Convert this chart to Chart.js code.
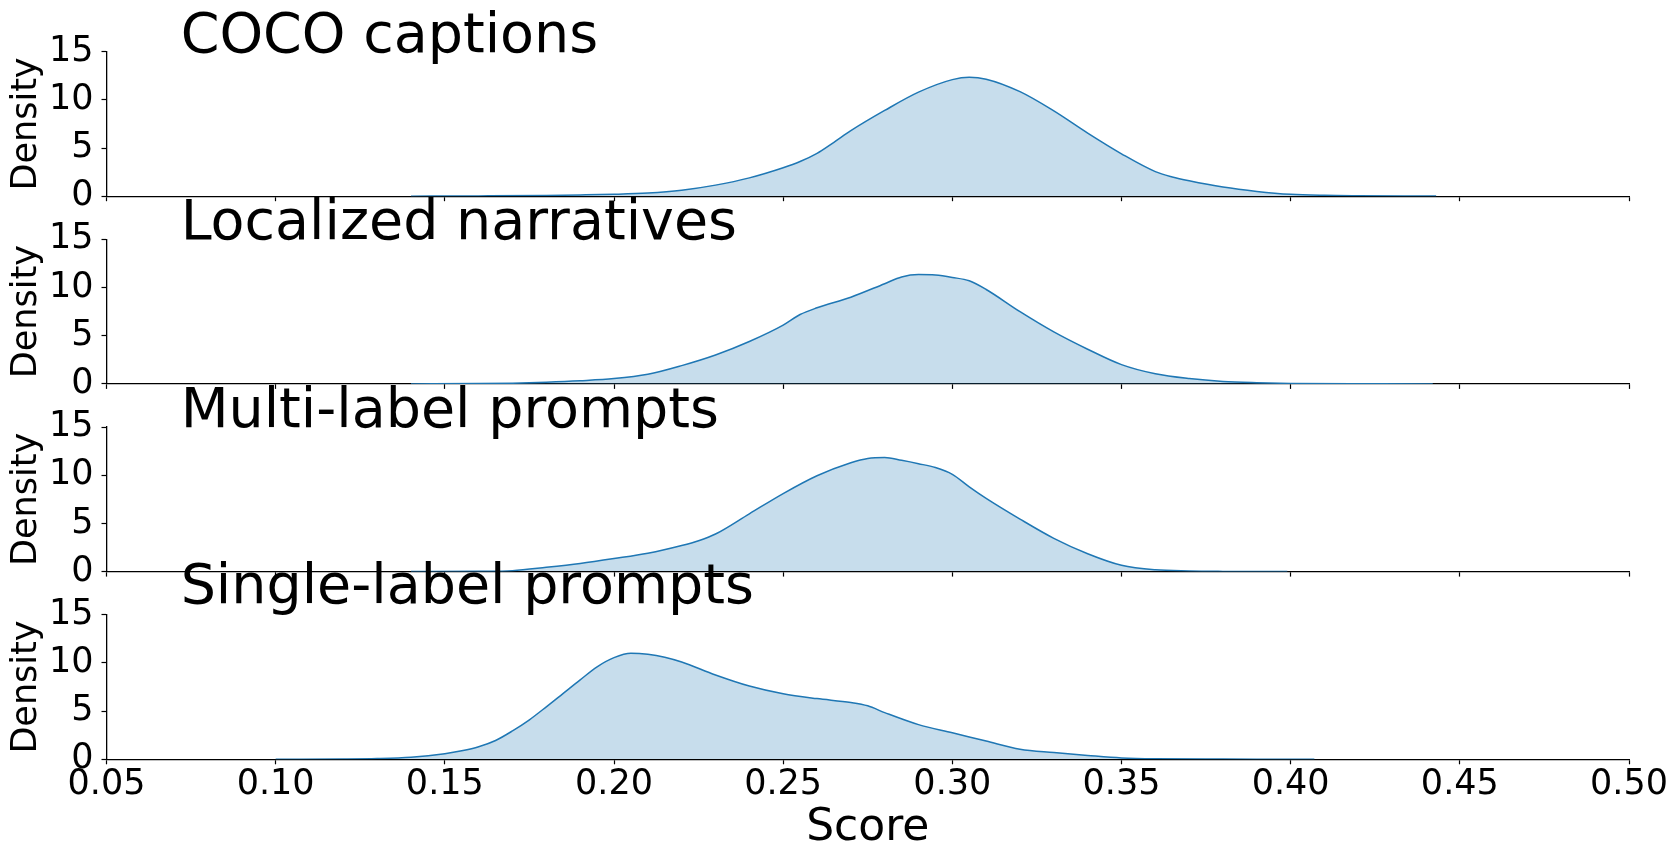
<!DOCTYPE html>
<html>
<head>
<meta charset="utf-8">
<title>Score density</title>
<script src="https://cdn.jsdelivr.net/npm/chart.js@4.4.1/dist/chart.umd.min.js"></script>
<style>
  body { margin: 0; background: #fff; }
  .panel { position: absolute; left: 0; top: 0; width: 1680px; height: 863px; }
</style>
</head>
<body>
<div class="panel"><canvas id="c0" width="1680" height="863"></canvas></div>
<div class="panel"><canvas id="c1" width="1680" height="863"></canvas></div>
<div class="panel"><canvas id="c2" width="1680" height="863"></canvas></div>
<div class="panel"><canvas id="c3" width="1680" height="863"></canvas></div>
<script>
// data (kde curves)
const panelTitles = ['COCO captions', 'Localized narratives', 'Multi-label prompts', 'Single-label prompts']

const cocoScore = [0.14, 0.16, 0.18, 0.19, 0.20, 0.21, 0.22, 0.23, 0.24, 0.25, 0.255, 0.26, 0.265, 0.27, 0.28, 0.29, 0.30, 0.305, 0.31, 0.32, 0.33, 0.34, 0.35, 0.36, 0.365, 0.37, 0.38, 0.39, 0.40, 0.41, 0.42, 0.443]
const cocoDensity = [0, 0.03, 0.08, 0.13, 0.2, 0.33, 0.62, 1.15, 1.9, 2.95, 3.6, 4.45, 5.6, 6.8, 8.9, 10.8, 12.1, 12.35, 12.15, 10.85, 8.85, 6.55, 4.4, 2.55, 2.0, 1.6, 0.95, 0.5, 0.2, 0.09, 0.05, 0.01]

const narrScore = [0.14, 0.16, 0.17, 0.18, 0.19, 0.20, 0.21, 0.22, 0.23, 0.24, 0.25, 0.255, 0.26, 0.27, 0.28, 0.285, 0.29, 0.295, 0.30, 0.305, 0.31, 0.32, 0.33, 0.34, 0.35, 0.36, 0.37, 0.38, 0.39, 0.40, 0.42, 0.442]
const narrDensity = [0, 0.03, 0.08, 0.18, 0.33, 0.55, 1.0, 1.9, 3.0, 4.4, 6.1, 7.2, 7.9, 9.0, 10.4, 11.1, 11.35, 11.3, 11.05, 10.7, 9.8, 7.5, 5.4, 3.6, 2.0, 1.05, 0.55, 0.25, 0.12, 0.05, 0.01, 0]

const multiScore = [0.14, 0.16, 0.17, 0.18, 0.19, 0.20, 0.21, 0.22, 0.225, 0.23, 0.24, 0.25, 0.26, 0.27, 0.275, 0.28, 0.285, 0.29, 0.295, 0.30, 0.305, 0.31, 0.32, 0.33, 0.34, 0.35, 0.36, 0.37, 0.38, 0.399]
const multiDensity = [0, 0.03, 0.1, 0.45, 0.85, 1.35, 1.9, 2.7, 3.2, 3.9, 6.0, 8.1, 9.95, 11.3, 11.75, 11.85, 11.55, 11.2, 10.8, 10.1, 8.8, 7.6, 5.45, 3.45, 1.85, 0.65, 0.18, 0.06, 0.02, 0]

const singleScore = [0.10, 0.12, 0.13, 0.14, 0.15, 0.155, 0.16, 0.165, 0.17, 0.175, 0.18, 0.185, 0.19, 0.195, 0.20, 0.205, 0.21, 0.215, 0.22, 0.23, 0.24, 0.25, 0.26, 0.27, 0.275, 0.28, 0.29, 0.30, 0.31, 0.32, 0.33, 0.34, 0.35, 0.36, 0.38, 0.407]
const singleDensity = [0, 0.03, 0.08, 0.22, 0.58, 0.88, 1.3, 1.95, 2.95, 4.1, 5.45, 6.85, 8.25, 9.6, 10.55, 11.0, 10.9, 10.6, 10.1, 8.75, 7.6, 6.8, 6.3, 5.9, 5.55, 4.85, 3.6, 2.75, 1.9, 1.05, 0.7, 0.4, 0.14, 0.05, 0.02, 0]

const xTicks = [0.05, 0.10, 0.15, 0.20, 0.25, 0.30, 0.35, 0.40, 0.45, 0.50]
const yTicks = [0, 5, 10, 15]

const panelScores = [cocoScore, narrScore, multiScore, singleScore]
const panelDensities = [cocoDensity, narrDensity, multiDensity, singleDensity]

// layout (pixels)
const W = 1680, H = 863
const FONT = 'DejaVu Sans'
const plotLeft = 106.5
const plotRight = 1629
const panelTops = [51.7, 239.4, 427.1, 614.8]
const panelHeight = 144.5
const titleShift = [0, 0, 0, -12]
const tickLen = 5

// draws the big left-aligned title just above each panel
const panelTitle = {
    id: 'panelTitle',
    afterDraw(chart, args, opts) {
        const { ctx, chartArea } = chart
        ctx.save()
        ctx.font = '55.5px "' + FONT + '"'
        ctx.fillStyle = '#000'
        ctx.textAlign = 'left'
        ctx.textBaseline = 'alphabetic'
        const x = chartArea.left + 0.05 * (chartArea.right - chartArea.left) - 2
        ctx.fillText(opts.text, x, chartArea.top + opts.shift)
        ctx.restore()
    }
}

function makePanel(i) {
    const last = i === panelTitles.length - 1
    const xAxisH = last ? 91.5 : tickLen
    const bottomPad = H - (panelTops[i] + panelHeight) - xAxisH
    const points = panelScores[i].map((s, j) => ({ x: s, y: panelDensities[i][j] }))

    new Chart(document.getElementById('c' + i).getContext('2d'), {
        type: 'line',
        data: {
            datasets: [{
                data: points,
                borderColor: '#1f77b4',
                borderWidth: 1.5,
                backgroundColor: 'rgba(31, 119, 180, 0.25)',
                fill: 'origin',
                pointRadius: 0,
                cubicInterpolationMode: 'monotone'
            }]
        },
        options: {
            responsive: false,
            animation: false,
            events: [],
            layout: { padding: { left: 0, right: W - plotRight, top: panelTops[i], bottom: bottomPad } },
            plugins: {
                legend: { display: false },
                tooltip: { enabled: false },
                panelTitle: { text: panelTitles[i], shift: titleShift[i] }
            },
            scales: {
                x: {
                    type: 'linear',
                    min: 0.05,
                    max: 0.50,
                    afterBuildTicks: scale => { scale.ticks = xTicks.map(v => ({ value: v })) },
                    afterFit: scale => { scale.height = xAxisH },
                    grid: { drawOnChartArea: false, drawTicks: true, tickLength: tickLen, tickColor: '#000', tickWidth: 1.2 },
                    border: { display: true, color: '#000', width: 1.3 },
                    ticks: {
                        display: last,
                        color: '#000',
                        padding: 3,
                        maxRotation: 0,
                        autoSkip: false,
                        font: { family: FONT, size: 35, lineHeight: 1 },
                        callback: v => v.toFixed(2)
                    },
                    title: {
                        display: last,
                        text: 'Score',
                        color: '#000',
                        padding: 0,
                        font: { family: FONT, size: 44, lineHeight: 1 }
                    }
                },
                y: {
                    min: 0,
                    max: 15,
                    afterBuildTicks: scale => { scale.ticks = yTicks.map(v => ({ value: v })) },
                    afterFit: scale => { scale.width = plotLeft },
                    grid: { drawOnChartArea: false, drawTicks: true, tickLength: tickLen, tickColor: '#000', tickWidth: 1.2 },
                    border: { display: true, color: '#000', width: 1.3 },
                    ticks: {
                        color: '#000',
                        padding: 8,
                        font: { family: FONT, size: 35, lineHeight: 1 }
                    },
                    title: {
                        display: true,
                        text: 'Density',
                        color: '#000',
                        padding: { top: 9, bottom: 0 },
                        font: { family: FONT, size: 35, lineHeight: 1 }
                    }
                }
            }
        },
        plugins: [panelTitle]
    })
}

for (let i = 0; i < panelTitles.length; i++) {
    makePanel(i)
}
</script>
</body>
</html>
